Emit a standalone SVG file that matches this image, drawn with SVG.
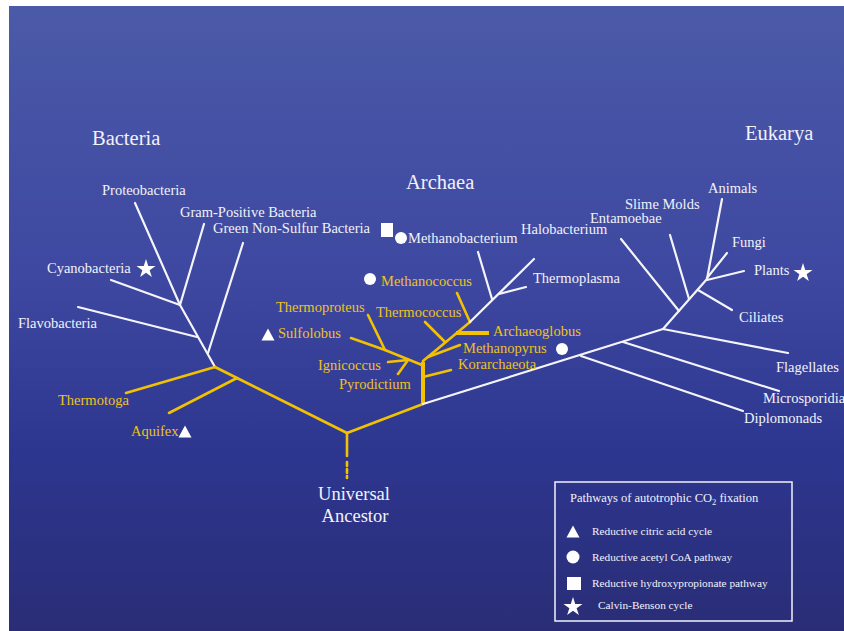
<svg xmlns="http://www.w3.org/2000/svg" xmlns:xlink="http://www.w3.org/1999/xlink" width="844" height="631" viewBox="0 0 844 631">
<defs>
<linearGradient id="bg" x1="0" y1="0" x2="0" y2="1">
<stop offset="0" stop-color="#4B5AA8"/>
<stop offset="0.45" stop-color="#3D47A0"/>
<stop offset="0.72" stop-color="#2D368F"/>
<stop offset="1" stop-color="#2A2D76"/>
</linearGradient>
<path id="star" d="M0,-10 L2.245,-3.09 L9.511,-3.09 L3.633,1.18 L5.878,8.09 L0,3.82 L-5.878,8.09 L-3.633,1.18 L-9.511,-3.09 L-2.245,-3.09Z" fill="#FFFFFF"/>
<path id="tri" d="M0,-6.5 L6.5,5.5 L-6.5,5.5Z" fill="#FFFFFF"/>
<style>
text{font-family:"Liberation Serif","Times New Roman",serif;}
.w{fill:#F2F2FA;font-size:14.5px;}
.y{fill:#EEC21C;font-size:14.5px;}
.big{fill:#F2F2FA;font-size:20.5px;}
.ua{fill:#F2F2FA;font-size:18.5px;text-anchor:middle;}
.lt{fill:#F2F2FA;font-size:12.5px;}
.li{fill:#F2F2FA;font-size:11.3px;}
.lw{stroke:#F4F4FA;stroke-width:2.2;fill:none;stroke-linecap:round;}
.ly{stroke:#F2C200;stroke-width:2.6;fill:none;stroke-linecap:round;}
.lyt{stroke:#F2C200;stroke-width:4;fill:none;}
</style>
</defs>
<rect x="0" y="0" width="844" height="631" fill="#FFFFFF"/>
<rect x="9" y="6" width="835" height="625" fill="url(#bg)"/>

<g id="connectors">
<line class="lw" x1="135" y1="203" x2="180" y2="305"/>
<line class="lw" x1="204" y1="224" x2="180" y2="305"/>
<line class="lw" x1="111" y1="280" x2="180" y2="305"/>
<line class="lw" x1="180" y1="305" x2="215" y2="367"/>
<line class="lw" x1="78" y1="307" x2="197" y2="337"/>
<line class="lw" x1="243" y1="243" x2="208" y2="353"/>
<line class="ly" x1="126" y1="393" x2="215" y2="367"/>
<line class="ly" x1="215" y1="367" x2="347" y2="433"/>
<line class="ly" x1="169" y1="413" x2="237" y2="378"/>
<line class="ly" x1="347" y1="433" x2="347" y2="456" stroke-linecap="butt"/>
<line class="ly" x1="347" y1="462" x2="347" y2="478" stroke-dasharray="4,3" stroke-linecap="butt"/>
<line class="ly" x1="347" y1="433" x2="423" y2="404"/>
<line class="lyt" x1="423" y1="404" x2="423" y2="362"/>
<line class="ly" x1="423" y1="377" x2="451" y2="370"/>
<polyline class="ly" points="351,338 385,350 422,365"/>
<line class="ly" x1="368" y1="315" x2="385" y2="350"/>
<line class="ly" x1="388" y1="362" x2="408" y2="360"/>
<line class="ly" x1="398" y1="374" x2="408" y2="360"/>
<line class="ly" x1="423" y1="361" x2="470" y2="322"/>
<line class="ly" x1="425" y1="322" x2="445" y2="342"/>
<line class="ly" x1="428" y1="357" x2="460" y2="345"/>
<line class="lyt" x1="456" y1="333" x2="489" y2="333"/>
<line class="ly" x1="457" y1="293" x2="470" y2="322"/>
<line class="lw" x1="470" y1="322" x2="534" y2="259"/>
<line class="lw" x1="478" y1="252" x2="492" y2="299"/>
<line class="lw" x1="499" y1="294" x2="526" y2="287"/>
<line class="lw" x1="423" y1="404" x2="663" y2="329"/>
<line class="lw" x1="581" y1="356" x2="743" y2="411"/>
<line class="lw" x1="623" y1="342" x2="779" y2="391"/>
<line class="lw" x1="663" y1="329" x2="788" y2="353"/>
<line class="lw" x1="663" y1="329" x2="707" y2="279"/>
<line class="lw" x1="621" y1="239" x2="679" y2="311"/>
<line class="lw" x1="670" y1="235" x2="689" y2="299"/>
<line class="lw" x1="698" y1="290" x2="732" y2="310"/>
<line class="lw" x1="722" y1="199" x2="707" y2="279"/>
<line class="lw" x1="727" y1="253" x2="707" y2="278"/>
<line class="lw" x1="744" y1="271" x2="707" y2="280"/>
</g>

<g id="domain-bacteria"><text class="big" x="92" y="145">Bacteria</text></g>
<g id="domain-archaea"><text class="big" x="406" y="189">Archaea</text></g>
<g id="domain-eukarya"><text class="big" x="745" y="140">Eukarya</text></g>

<g id="proteobacteria"><text class="w" x="102" y="195">Proteobacteria</text></g>
<g id="gram-positive"><text class="w" x="180" y="217">Gram-Positive Bacteria</text></g>
<g id="green-non-sulfur"><text class="w" x="213" y="233">Green Non-Sulfur Bacteria</text><rect x="381" y="223" width="12" height="14" fill="#FFFFFF"/></g>
<g id="cyanobacteria"><text class="w" x="47" y="273">Cyanobacteria</text><use xlink:href="#star" x="146" y="269"/></g>
<g id="flavobacteria"><text class="w" x="18" y="328">Flavobacteria</text></g>
<g id="thermotoga"><text class="y" x="58" y="405">Thermotoga</text></g>
<g id="aquifex"><text class="y" x="131" y="436">Aquifex</text><use xlink:href="#tri" x="185" y="432"/></g>

<g id="thermoproteus"><text class="y" x="276" y="312">Thermoproteus</text></g>
<g id="sulfolobus"><use xlink:href="#tri" x="268" y="335"/><text class="y" x="278" y="338">Sulfolobus</text></g>
<g id="ignicoccus"><text class="y" x="318" y="370">Ignicoccus</text></g>
<g id="pyrodictium"><text class="y" x="339" y="389">Pyrodictium</text></g>
<g id="korarchaeota"><text class="y" x="458" y="369">Korarchaeota</text></g>
<g id="methanopyrus"><text class="y" x="463" y="353">Methanopyrus</text><circle cx="562" cy="349" r="6" fill="#FFFFFF"/></g>
<g id="archaeoglobus"><text class="y" x="493" y="336">Archaeoglobus</text></g>
<g id="thermococcus"><text class="y" x="376" y="317">Thermococcus</text></g>
<g id="methanococcus"><circle cx="370" cy="279" r="6" fill="#FFFFFF"/><text class="y" x="381" y="286">Methanococcus</text></g>
<g id="methanobacterium"><circle cx="401" cy="238" r="6" fill="#FFFFFF"/><text class="w" x="408" y="243">Methanobacterium</text></g>
<g id="halobacterium"><text class="w" x="521" y="234">Halobacterium</text></g>
<g id="thermoplasma"><text class="w" x="533" y="283">Thermoplasma</text></g>

<g id="entamoebae"><text class="w" x="590" y="223">Entamoebae</text></g>
<g id="slime-molds"><text class="w" x="625" y="209">Slime Molds</text></g>
<g id="animals"><text class="w" x="708" y="193">Animals</text></g>
<g id="fungi"><text class="w" x="732" y="247">Fungi</text></g>
<g id="plants"><text class="w" x="754" y="275">Plants</text><use xlink:href="#star" x="803" y="273"/></g>
<g id="ciliates"><text class="w" x="739" y="322">Ciliates</text></g>
<g id="flagellates"><text class="w" x="776" y="372">Flagellates</text></g>
<g id="microsporidia"><text class="w" x="763" y="403">Microsporidia</text></g>
<g id="diplomonads"><text class="w" x="744" y="423">Diplomonads</text></g>

<g id="universal-ancestor"><text class="ua" x="354" y="500">Universal</text><text class="ua" x="355" y="522">Ancestor</text></g>

<g id="legend">
<rect x="555" y="482" width="237" height="139" fill="none" stroke="#F2F2FA" stroke-width="1.5"/>
<text class="lt" x="570" y="502">Pathways of autotrophic CO<tspan font-size="8.5" dy="3">2</tspan><tspan dy="-3"> fixation</tspan></text>
<use xlink:href="#tri" x="573" y="532"/>
<text class="li" x="592" y="535">Reductive citric acid cycle</text>
<circle cx="573" cy="557" r="6.5" fill="#FFFFFF"/>
<text class="li" x="592" y="561">Reductive acetyl CoA pathway</text>
<rect x="567" y="577" width="14" height="13" fill="#FFFFFF"/>
<text class="li" x="592" y="587">Reductive hydroxypropionate pathway</text>
<use xlink:href="#star" x="573" y="607"/>
<text class="li" x="598" y="609">Calvin-Benson cycle</text>
</g>
</svg>
